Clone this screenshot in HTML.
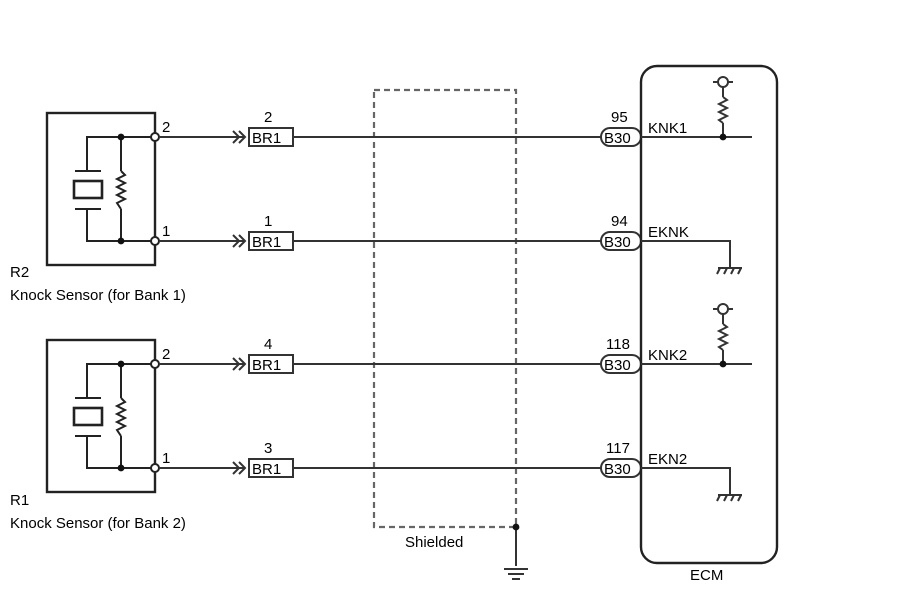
<!DOCTYPE html>
<html><head><style>body{margin:0;background:#fff}svg{display:block}text{font-family:"Liberation Sans",sans-serif;font-size:15px;fill:#000}</style></head><body>
<svg width="907" height="611" viewBox="0 0 907 611" xmlns="http://www.w3.org/2000/svg">
<defs>
<g id="sensor" stroke="#222" stroke-width="2" fill="none">
<rect x="47" y="0" width="108" height="152" stroke-width="2.4"/>
<polyline points="155,24 87,24 87,58"/>
<polyline points="155,128 87,128 87,96"/>
<line x1="75" y1="58" x2="101" y2="58"/><line x1="75" y1="96" x2="101" y2="96"/>
<rect x="74" y="68" width="28" height="17" stroke-width="2.6"/>
<line x1="121" y1="24" x2="121" y2="58"/><line x1="121" y1="96" x2="121" y2="128"/>
<polyline points="121,58 125,62 117,66 125,70 117,74 125,78 117,82 125,86 117,90 121,96"/>
<circle cx="121" cy="24" r="3.4" fill="#111" stroke="none"/><circle cx="121" cy="128" r="3.4" fill="#111" stroke="none"/>
<circle cx="155" cy="24" r="4" fill="#fff"/><circle cx="155" cy="128" r="4" fill="#fff"/>
</g>
<g id="wire" stroke="#333" stroke-width="2" fill="none">
<line x1="159" y1="0" x2="245" y2="0"/>
<polyline points="233,-6 239,0 233,6"/><polyline points="239,-6 245,0 239,6"/>
<rect x="249" y="-9" width="44" height="18" fill="#fff"/>
<line x1="293" y1="0" x2="601" y2="0"/>
<rect x="601" y="-9" width="40" height="18" rx="9" fill="#fff"/>
</g>
<g id="gnd" stroke="#333" stroke-width="2"><line x1="-12" y1="0" x2="12" y2="0"/><line x1="-10" y1="0" x2="-13" y2="6"/><line x1="-3" y1="0" x2="-6" y2="6"/><line x1="4" y1="0" x2="1" y2="6"/><line x1="11" y1="0" x2="8" y2="6"/></g>
<g id="pull" stroke="#333" stroke-width="2" fill="none"><line x1="-10" y1="-55" x2="10" y2="-55"/><circle cx="0" cy="-55" r="5" fill="#fff"/><line x1="0" y1="-50" x2="0" y2="-40"/><polyline points="0,-40 4,-37 -4,-33 4,-29 -4,-25 4,-21 -4,-17 0,-14"/><line x1="0" y1="-14" x2="0" y2="0"/><circle cx="0" cy="0" r="3.4" fill="#111" stroke="none"/></g>
</defs>
<use href="#sensor" y="113"/><use href="#sensor" y="340"/>
<text x="162" y="132">2</text><text x="162" y="236">1</text><text x="162" y="359">2</text><text x="162" y="463">1</text>
<text x="10" y="277">R2</text><text x="10" y="300">Knock Sensor (for Bank 1)</text>
<text x="10" y="505">R1</text><text x="10" y="528">Knock Sensor (for Bank 2)</text>
<rect x="374" y="90" width="142" height="437" fill="none" stroke="#666" stroke-width="2.2" stroke-dasharray="6,4"/>
<line x1="516" y1="527" x2="516" y2="566" stroke="#333" stroke-width="2"/>
<circle cx="516" cy="527" r="3.4" fill="#111"/>
<g stroke="#333" stroke-width="2"><line x1="504" y1="569" x2="528" y2="569"/><line x1="508" y1="574" x2="524" y2="574"/><line x1="512" y1="579" x2="520" y2="579"/></g>
<text x="405" y="547">Shielded</text>
<use href="#wire" y="137"/><use href="#wire" y="241"/><use href="#wire" y="364"/><use href="#wire" y="468"/>
<g style="font-size:15px"><text x="252" y="143">BR1</text><text x="252" y="247">BR1</text><text x="252" y="370">BR1</text><text x="252" y="474">BR1</text>
<text x="604" y="143">B30</text><text x="604" y="247">B30</text><text x="604" y="370">B30</text><text x="604" y="474">B30</text></g>
<text x="264" y="122">2</text><text x="264" y="226">1</text><text x="264" y="349">4</text><text x="264" y="453">3</text>
<text x="611" y="122">95</text><text x="611" y="226">94</text><text x="606" y="349">118</text><text x="606" y="453">117</text>
<rect x="641" y="66" width="136" height="497" rx="16" fill="none" stroke="#222" stroke-width="2.4"/>
<text x="648" y="133">KNK1</text><text x="648" y="237">EKNK</text><text x="648" y="360">KNK2</text><text x="648" y="464">EKN2</text>
<g stroke="#333" stroke-width="2" fill="none">
<line x1="641" y1="137" x2="752" y2="137"/><polyline points="641,241 730,241 730,268"/>
<line x1="641" y1="364" x2="752" y2="364"/><polyline points="641,468 730,468 730,495"/>
</g>
<use href="#pull" x="723" y="137"/><use href="#pull" x="723" y="364"/>
<use href="#gnd" x="730" y="268"/><use href="#gnd" x="730" y="495"/>
<text x="690" y="580">ECM</text>
</svg>
</body></html>
